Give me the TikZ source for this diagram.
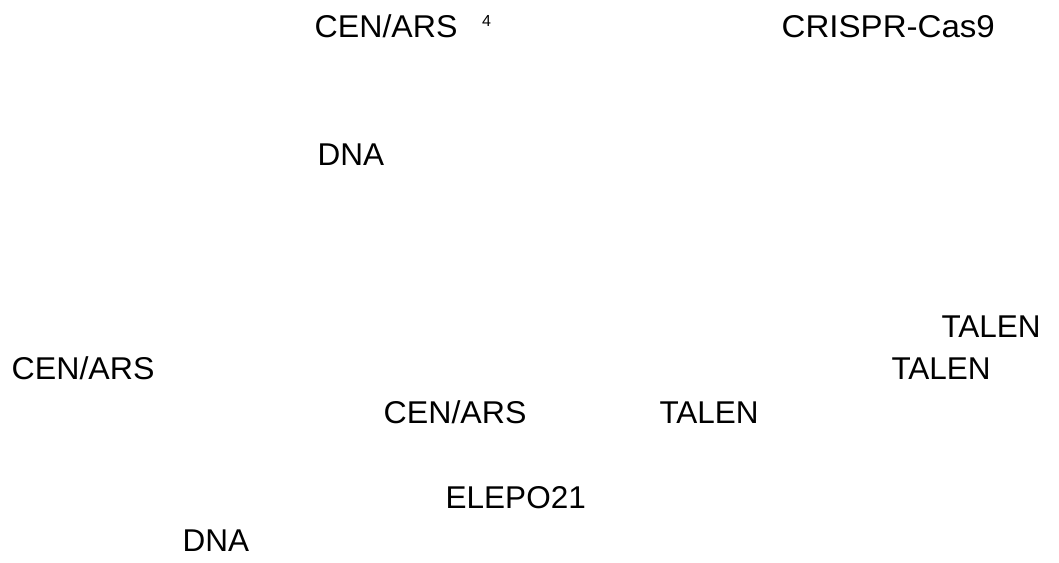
\documentclass[tikz,border=0pt]{standalone}
\usepackage{fontspec}
\setmainfont{Liberation Sans}
\begin{document}
\begin{tikzpicture}[x=1pt,y=1pt,
  lbl/.style={anchor=base west,inner sep=0pt,font=\fontsize{31.5}{36}\selectfont},
  suplbl/.style={anchor=base west,inner sep=0pt,font=\fontsize{16}{18}\selectfont}]
\useasboundingbox[fill=white] (0,0) rectangle (1059,-562);
\node[lbl] (cen1) at (314.5,-37) {\scalebox{1.02}[1]{CEN/ARS}};
\node[suplbl] (sup4) at (482,-27) {4};
\node[lbl] (crispr) at (781.5,-37) {\scalebox{1.05}[1]{CRISPR-Cas9}};
\node[lbl] (dna1) at (317.5,-165) {DNA};
\node[lbl] (talen1) at (941.3,-337) {TALEN};
\node[lbl] (cen2) at (11.5,-379) {\scalebox{1.02}[1]{CEN/ARS}};
\node[lbl] (talen2) at (891.3,-379) {TALEN};
\node[lbl] (cen3) at (383.5,-423) {\scalebox{1.02}[1]{CEN/ARS}};
\node[lbl] (talen3) at (659.3,-423) {TALEN};
\node[lbl] (elepo) at (445.5,-508) {ELEPO21};
\node[lbl] (dna2) at (182.5,-551) {DNA};
\end{tikzpicture}
\end{document}
